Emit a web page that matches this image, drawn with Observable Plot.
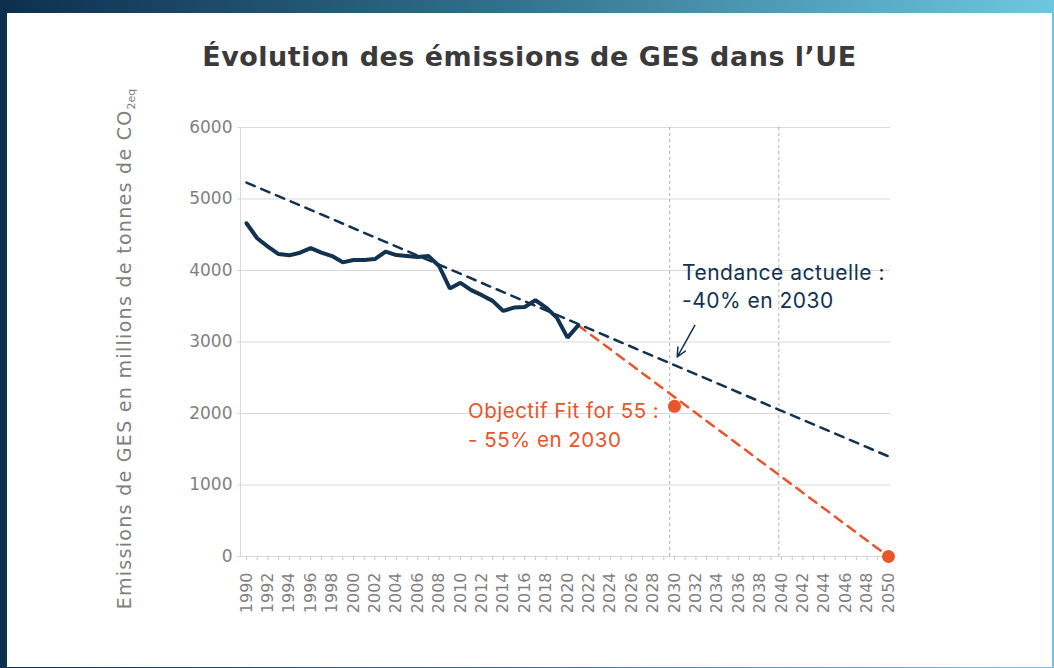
<!DOCTYPE html>
<html>
<head>
<meta charset="utf-8">
<script src="https://cdn.jsdelivr.net/npm/d3@7"></script>
<script src="https://cdn.jsdelivr.net/npm/@observablehq/plot@0.6"></script>
<style>
  html, body { margin: 0; padding: 0; }
  body { width: 1054px; height: 668px; position: relative; overflow: hidden;
         background: linear-gradient(to right, #0d2f4f 0%, #2f6c88 45%, #6dc7e0 100%); }
  #panel { position: absolute; left: 7px; top: 13px; right: 2px; bottom: 1px; background: #fff; }
  #title { position: absolute; left: 7px; width: 1045px; top: 43px; text-align: center;
           font-family: "DejaVu Sans", Inter, sans-serif; font-weight: 700; font-size: 27px;
           color: #3a3a3a; line-height: 1; letter-spacing: 0.5px; }
  #chart { position: absolute; left: 0; top: 100px; }
  #ylabel { position: absolute; left: 125px; top: 349px; transform: translate(-50%, -50%) rotate(-90deg);
            white-space: nowrap; font-family: "DejaVu Sans", sans-serif; font-size: 19px; color: #7f7f7f; letter-spacing: 1.3px; }
  #ylabel sub { font-size: 11px; vertical-align: -4px; letter-spacing: 0; }
  g[aria-label="text"] text { letter-spacing: 0.5px; }
</style>
</head>
<body>
<div id="panel"></div>
<div id="title">Évolution des émissions de GES dans l’UE</div>
<div id="ylabel">Emissions de GES en millions de tonnes de CO<sub>2eq</sub></div>
<div id="chart"></div>
<script>
// ---- data ----
const years = d3.range(1990, 2022);
const emissions = [4661, 4451, 4333, 4230, 4212, 4249, 4314, 4249, 4202, 4114,
                   4146, 4146, 4160, 4263, 4216, 4202, 4188, 4202, 4063, 3749,
                   3828, 3725, 3655, 3575, 3434, 3482, 3490, 3584, 3482, 3341,
                   3061, 3233];
const trendYears = [1990, 2050];
const trendValues = [5230, 1400];
const targetYears = [2021, 2050];
const targetValues = [3233, 0];
const targetDotYears = [2030, 2050];
const targetDotValues = [2100, 0];
const refYears = [2029.55, 2039.75];
const yTicks = [0, 1000, 2000, 3000, 4000, 5000, 6000];
const xTicks = d3.range(1990, 2051);
const trendLabel = "Tendance actuelle :\n-40% en 2030";
const targetLabel = "Objectif Fit for 55 :\n- 55% en 2030";
const trendLabelPos = {year: 2030.7, value: 3790};
const targetLabelPos = {year: 2010.7, value: 1860};
const arrowFrom = {year: 2031.9, value: 3233};
const arrowTo = {year: 2030.25, value: 2790};

const navy = "#12324f";
const orange = "#e9542b";

const series = years.map((y, i) => ({year: y, value: emissions[i]}));
const trend = trendYears.map((y, i) => ({year: y, value: trendValues[i]}));
const target = targetYears.map((y, i) => ({year: y, value: targetValues[i]}));
const dots = targetDotYears.map((y, i) => ({year: y, value: targetDotValues[i]}));

const chart = Plot.plot({
  width: 1054,
  height: 568,
  marginLeft: 240,
  marginRight: 164,
  marginTop: 27,
  marginBottom: 112,
  insetLeft: 6,
  insetRight: 2,
  style: {fontFamily: "'DejaVu Sans', sans-serif", fontSize: "17px", background: "transparent", overflow: "visible"},
  x: {domain: [1990, 2050]},
  y: {domain: [0, 6000]},
  marks: [
    Plot.ruleY(yTicks, {stroke: "#d9d9d9", strokeWidth: 1}),
    Plot.frame({anchor: "left", stroke: "#d9d9d9"}),
    Plot.ruleX(refYears, {stroke: "#b0b0b0", strokeDasharray: "3,3", strokeWidth: 1}),
    Plot.axisY({ticks: yTicks, tickSize: 3, tickPadding: 5, stroke: "#d9d9d9", fill: "#7f7f7f", label: null, tickFormat: d => String(d)}),
    Plot.axisX({ticks: xTicks, tickSize: 4, tickPadding: 12, tickRotate: -90, stroke: "#c8c8c8", fill: "#7f7f7f", label: null,
                fontSize: 16, tickFormat: d => (d % 2 === 0 ? String(d) : "")}),
    Plot.line(target, {x: "year", y: "value", stroke: orange, strokeWidth: 2.5, strokeDasharray: "9,7"}),
    Plot.line(trend, {x: "year", y: "value", stroke: navy, strokeWidth: 2.5, strokeDasharray: "9,7"}),
    Plot.line(series, {x: "year", y: "value", stroke: navy, strokeWidth: 4, strokeLinejoin: "miter"}),
    Plot.dot(dots, {x: "year", y: "value", r: 6.5, fill: orange, stroke: "none"}),
    Plot.arrow([{x1: arrowFrom.year, y1: arrowFrom.value, x2: arrowTo.year, y2: arrowTo.value}],
               {x1: "x1", y1: "y1", x2: "x2", y2: "y2", stroke: navy, strokeWidth: 1.5, headLength: 10, headAngle: 50}),
    Plot.text([trendLabel], {x: trendLabelPos.year, y: trendLabelPos.value, text: d => d, textAnchor: "start", fill: navy,
               fontSize: 21, lineHeight: 1.33, fontFamily: "Inter, 'Liberation Sans', sans-serif"}),
    Plot.text([targetLabel], {x: targetLabelPos.year, y: targetLabelPos.value, text: d => d, textAnchor: "start", fill: orange,
               fontSize: 20.5, lineHeight: 1.4, fontFamily: "Inter, 'Liberation Sans', sans-serif"})
  ]
});
document.getElementById("chart").appendChild(chart);
</script>
</body>
</html>
